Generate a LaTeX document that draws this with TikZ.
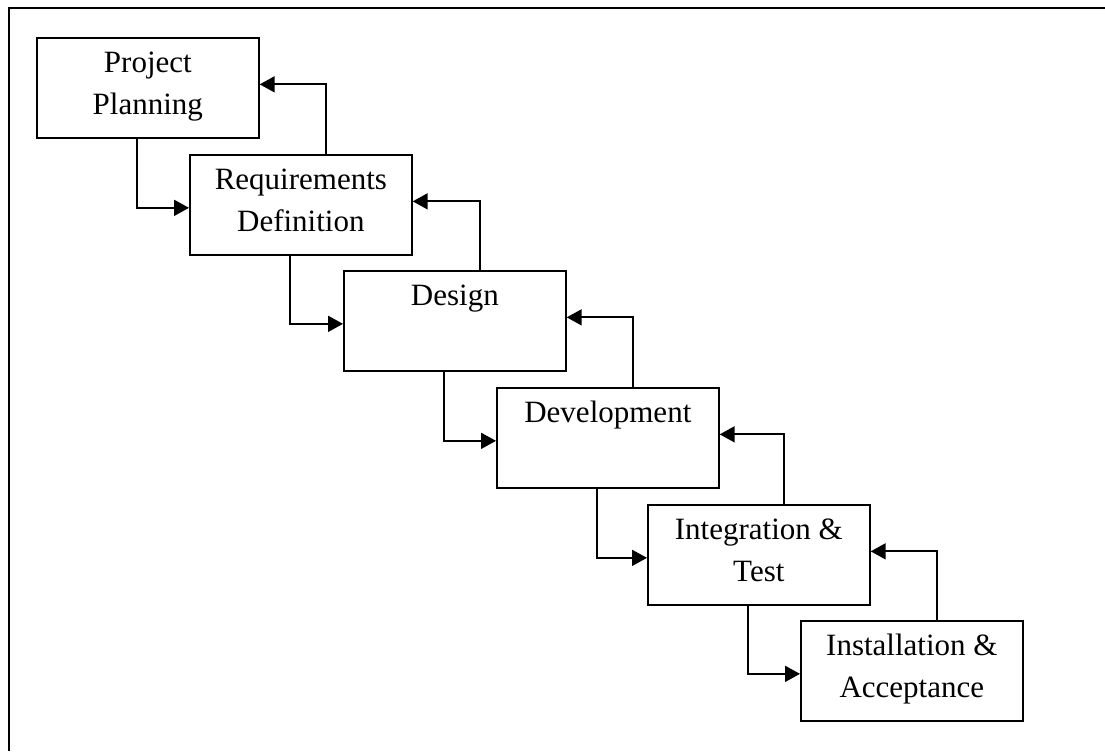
\documentclass[tikz,border=0pt]{standalone}
\usepackage{fontspec}
\setmainfont{Liberation Serif}
\usetikzlibrary{arrows.meta}
\newcommand{\lstrut}{\rule[-5pt]{0pt}{16pt}}
\tikzset{
  phase/.style={draw,line width=0.85pt,minimum width=111pt,minimum height=50pt,inner sep=0pt,
    anchor=north west,align=center,font=\fontsize{15.5}{21}\selectfont},
  flow/.style={line width=0.9pt,-{Triangle[length=7.5pt,width=8pt]}}
}
\begin{document}
\begin{tikzpicture}[x=0.5pt,y=-0.5pt]
      \useasboundingbox (0,0) rectangle (1105,751);
      \draw[line width=1.1pt] (9,751) |- (1105,8);
      \node[phase] (plan) at (36,37) {Project\lstrut\\Planning\lstrut};
      \node[phase] (req) at (189,154) {Requirements\lstrut\\Definition\lstrut};
      \node[phase] (des) at (343,270) {Design\lstrut\\\lstrut};
      \node[phase] (dev) at (496,387) {Development\lstrut\\\lstrut};
      \node[phase] (test) at (647,504) {Integration \&\lstrut\\Test\lstrut};
      \node[phase] (inst) at (800,620) {Installation \&\lstrut\\Acceptance\lstrut};
      % forward
      \draw[flow] ([xshift=-5.5pt]plan.south) |- ([yshift=-1.5pt]req.west);
      \draw[flow] ([xshift=-5.5pt]req.south) |- ([yshift=-1.5pt]des.west);
      \draw[flow] ([xshift=-5.5pt]des.south) |- ([yshift=-1.5pt]dev.west);
      \draw[flow] ([xshift=-5.5pt]dev.south) |- ([yshift=-1.5pt]test.west);
      \draw[flow] ([xshift=-5.5pt]test.south) |- ([yshift=-1.5pt]inst.west);
      % feedback
      \draw[flow] ([xshift=12.5pt]req.north) |- ([yshift=1.75pt]plan.east);
      \draw[flow] ([xshift=12.5pt]des.north) |- ([yshift=1.75pt]req.east);
      \draw[flow] ([xshift=12.5pt]dev.north) |- ([yshift=1.75pt]des.east);
      \draw[flow] ([xshift=12.5pt]test.north) |- ([yshift=1.75pt]dev.east);
      \draw[flow] ([xshift=12.5pt]inst.north) |- ([yshift=1.75pt]test.east);
    \end{tikzpicture}
\end{document}
